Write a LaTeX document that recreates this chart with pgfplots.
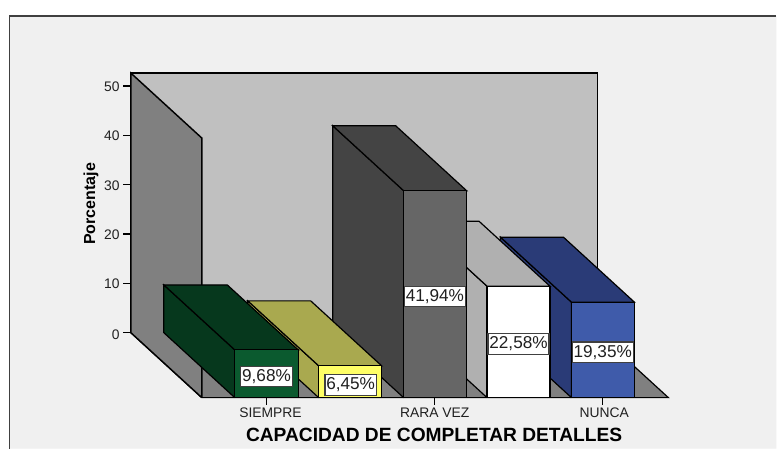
\documentclass[border=0pt]{standalone}
\usepackage{fontspec}
\setmainfont{Liberation Sans}
\usepackage{pgfplots}
\pgfplotsset{compat=1.18}
\definecolor{pagebg}{HTML}{F0F0F0}
\definecolor{wallback}{HTML}{C0C0C0}
\definecolor{wallside}{HTML}{808080}
\definecolor{frameln}{HTML}{404040}
\definecolor{txt}{HTML}{202020}
\definecolor{g1}{HTML}{0B5A2F}\definecolor{g1s}{HTML}{06381D}
\definecolor{y1}{HTML}{FFFF66}\definecolor{y1s}{HTML}{A9A94F}
\definecolor{k1}{HTML}{666666}\definecolor{k1s}{HTML}{444444}
\definecolor{w1}{HTML}{FFFFFF}\definecolor{w1s}{HTML}{B0B0B0}
\definecolor{b1}{HTML}{3F5BAA}\definecolor{b1s}{HTML}{2A3B77}
% #1 left x, #2 right x, #3 value, #4 front colour, #5 side colour
\newcommand{\bargroup}[5]{%
  \addplot3[fill=#5,draw=black,line width=0.9pt] coordinates {(#1,0,0) (#1,1,0) (#1,1,#3) (#1,0,#3) (#1,0,0)};
  \addplot3[fill=#5,draw=black,line width=0.9pt] coordinates {(#1,0,#3) (#1,1,#3) (#2,1,#3) (#2,0,#3) (#1,0,#3)};
  \addplot3[fill=#4,draw=black,line width=0.9pt] coordinates {(#1,0,0) (#2,0,0) (#2,0,#3) (#1,0,#3) (#1,0,0)};
}
\begin{document}
\begin{tikzpicture}[x=1pt,y=1pt]
\begin{axis}[
  x={(0.75pt,0pt)}, y={(-53.25pt,48.75pt)}, z={(0pt,3.705pt)},
  xmin=202, xmax=669, ymin=0, ymax=1, zmin=0, zmax=52.6,
  clip=false, axis on top=true,
  axis line style={draw=none},
  xtick={269,433.5,603}, xticklabels={SIEMPRE,RARA VEZ,NUNCA},
  ytick=\empty,
  ztick={0,10,20,30,40,50},
  tick style={draw=none},
  major tick length=0pt,
  xtick pos=lower, ztick pos=left,
  tick label style={font=\fontsize{10.4}{12}\selectfont,text=txt},
  xticklabel style={xshift=-1.9pt,yshift=-4.2pt},
  zticklabel style={xshift=-5pt,yshift=-4.1pt},
  /pgf/number format/assume math mode=true,
  xlabel={CAPACIDAD DE COMPLETAR DETALLES},
  zlabel={Porcentaje},
  every axis x label/.style={at={(axis cs:434.5,0,-7.49)},anchor=center,font=\fontsize{14.4}{16}\selectfont\bfseries},
  every axis z label/.style={at={(axis cs:91,0,39.27)},anchor=center,rotate=90,font=\fontsize{12}{14}\selectfont\bfseries},
]
% page and panel
\addplot3[fill=white,draw=none] coordinates {(0,0,80.57) (777,0,80.57) (777,0,-10.32) (0,0,-10.32) (0,0,80.57)};
\addplot3[fill=pagebg,draw=none] coordinates {(9.5,0,77.3) (777,0,77.3) (777,0,-10.32) (9.5,0,-10.32) (9.5,0,77.3)};
\addplot3[draw=frameln,line width=1.1pt] coordinates {(9.5,0,-10.32) (9.5,0,77.3) (777,0,77.3)};
% walls and floor
\addplot3[fill=wallback,draw=black,line width=1.1pt] coordinates {(202,1,0) (669,1,0) (669,1,52.6) (202,1,52.6) (202,1,0)};
\addplot3[fill=wallside,draw=black,line width=0.9pt] coordinates {(202,0,0) (669,0,0) (669,1,0) (202,1,0) (202,0,0)};
\addplot3[fill=wallside,draw=black,line width=1.1pt] coordinates {(202,0,0) (202,1,0) (202,1,52.6) (202,0,52.6) (202,0,0)};
% tick marks
\addplot3[black,line width=0.9pt] coordinates {(202,1,0) (194,1,0)};
\addplot3[black,line width=0.9pt] coordinates {(202,1,10) (194,1,10)};
\addplot3[black,line width=0.9pt] coordinates {(202,1,20) (194,1,20)};
\addplot3[black,line width=0.9pt] coordinates {(202,1,30) (194,1,30)};
\addplot3[black,line width=0.9pt] coordinates {(202,1,40) (194,1,40)};
\addplot3[black,line width=0.9pt] coordinates {(202,1,50) (194,1,50)};
\addplot3[black,line width=0.9pt] coordinates {(267,0,0) (267,0,-1.42)};
\addplot3[black,line width=0.9pt] coordinates {(435,0,0) (435,0,-1.42)};
\addplot3[black,line width=0.9pt] coordinates {(603,0,0) (603,0,-1.42)};
\addplot3[black,line width=1.1pt] coordinates {(202,0,0) (669,0,0)};
% bars, right to left: the view is from the left
\bargroup{572}{635}{19.35}{b1}{b1s}
\bargroup{487.5}{550.5}{22.58}{w1}{w1s}
\bargroup{404}{467}{41.94}{k1}{k1s}
\bargroup{319}{382}{6.45}{y1}{y1s}
\bargroup{235}{298.5}{9.68}{g1}{g1s}
% value labels
\begin{scope}[every node/.style={fill=white,draw=frameln,line width=0.9pt,inner xsep=1pt,inner ysep=0pt,minimum height=15.5pt,anchor=center,text=txt,font=\fontsize{12.9}{14}\selectfont}]
\node at (axis cs:266.75,0,4.3) {9,68\%};
\node at (axis cs:351,0,2.6) {6,45\%};
\node at (axis cs:435.3,0,20.5) {41,94\%};
\node at (axis cs:519,0,10.9) {22,58\%};
\node at (axis cs:603.3,0,9.2) {19,35\%};
\end{scope}
\end{axis}
\end{tikzpicture}
\end{document}
